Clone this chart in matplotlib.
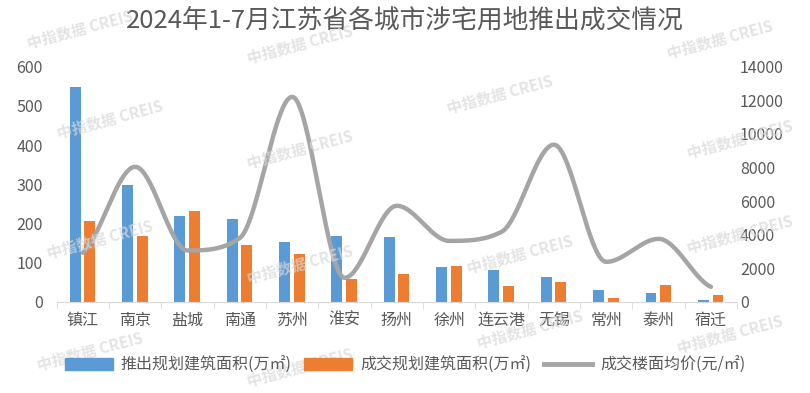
import numpy as np
from matplotlib import pyplot as plt
from matplotlib.lines import Line2D
from matplotlib.patches import Patch

plt.rcParams['font.family'] = ['Noto Sans CJK SC', 'DejaVu Sans']

cities = ['镇江', '南京', '盐城', '南通', '苏州', '淮安', '扬州', '徐州', '连云港', '无锡', '常州', '泰州', '宿迁']
supply = [549, 299, 219, 212, 153, 168, 166, 89, 82, 64, 31, 23, 5]
deal = [207, 168, 232, 146, 122, 59, 71, 92, 41, 51, 10, 43, 18]
price = [2920, 8040, 3060, 3810, 12210, 1430, 5720, 3630, 4170, 9360, 2380, 3750, 890]

blue = '#5B9BD5'
orange = '#ED7D31'
gray = '#A5A5A5'
txt = '#595959'

fig = plt.figure(figsize=(8.1, 3.93), dpi=100)
ax = fig.add_axes([0.070, 0.232, 0.840, 0.598])
ax2 = ax.twinx()

x = np.arange(len(cities))
w = 0.21
ax.bar(x - 0.145, supply, w, color=blue, zorder=2)
ax.bar(x + 0.135, deal, w, color=orange, zorder=2)

# smoothed line: hermite curve, flat at the peaks and valleys
y = np.array(price, dtype=float)
d = np.diff(y)
m = np.zeros_like(y)
m[0] = d[0] / 2
m[-1] = d[-1] / 2
for i in range(1, len(y) - 1):
    if d[i - 1] * d[i] > 0:
        m[i] = (d[i - 1] + d[i]) / 2
        lim = 3 * min(abs(d[i - 1]), abs(d[i]))
        m[i] = np.sign(m[i]) * min(abs(m[i]), lim)
xs, ys = [], []
t = np.linspace(0, 1, 40)
for i in range(len(y) - 1):
    h00 = 2 * t**3 - 3 * t**2 + 1
    h10 = t**3 - 2 * t**2 + t
    h01 = -2 * t**3 + 3 * t**2
    h11 = t**3 - t**2
    xs += list(x[i] + t)
    ys += list(h00 * y[i] + h10 * m[i] + h01 * y[i + 1] + h11 * m[i + 1])
ax2.plot(xs, ys, color=gray, lw=3.2, solid_capstyle='round', zorder=3)

ax.set_xlim(-0.5, len(cities) - 0.5)
ax.set_ylim(0, 600)
ax2.set_ylim(0, 14000)
ax.set_yticks(range(0, 601, 100))
ax2.set_yticks(range(0, 14001, 2000))
ax.set_xticks(x)
ax.set_xticklabels(cities)
ax.set_xticks(np.arange(-0.5, len(cities), 1), minor=True)

for a in (ax, ax2):
    for s in a.spines.values():
        s.set_visible(False)
    a.tick_params(axis='y', length=0, labelsize=11.5, labelcolor=txt)
ax.tick_params(axis='y', pad=10)
ax2.tick_params(axis='y', pad=2)
ax.spines['bottom'].set_visible(True)
ax.spines['bottom'].set_color('#D9D9D9')
ax.tick_params(axis='x', which='major', length=0, labelsize=11.5, labelcolor=txt, pad=7)
ax.tick_params(axis='x', which='minor', length=5, color='#D9D9D9')

fig.text(0.5, 0.948, '2024年1-7月江苏省各城市涉宅用地推出成交情况', ha='center', va='center', fontsize=18.5, color=txt)

handles = [Patch(color=blue), Patch(color=orange), Line2D([], [], color=gray, lw=3.5)]
labels = ['推出规划建筑面积(万㎡)', '成交规划建筑面积(万㎡)', '成交楼面均价(元/㎡)']
fig.legend(handles, labels, loc='center', bbox_to_anchor=(0.5, 0.071), ncol=3, frameon=False,
           fontsize=11.5, labelcolor=txt, handlelength=3.0, handleheight=0.7, columnspacing=0.8, handletextpad=0.5)

# watermark
for wx, wy in [(80, 30), (300, 45), (720, 40), (110, 120), (300, 150), (500, 95), (740, 140),
               (100, 240), (300, 265), (520, 255), (740, 235), (90, 352), (300, 368), (530, 330), (730, 335)]:
    fig.text(wx / 810, 1 - wy / 393, '中指数据 CREIS', rotation=15, ha='center', va='center', fontsize=11,
             color='#D8D8D8', alpha=0.7, fontweight='bold', zorder=5)

fig.savefig('out.png', dpi=100)
